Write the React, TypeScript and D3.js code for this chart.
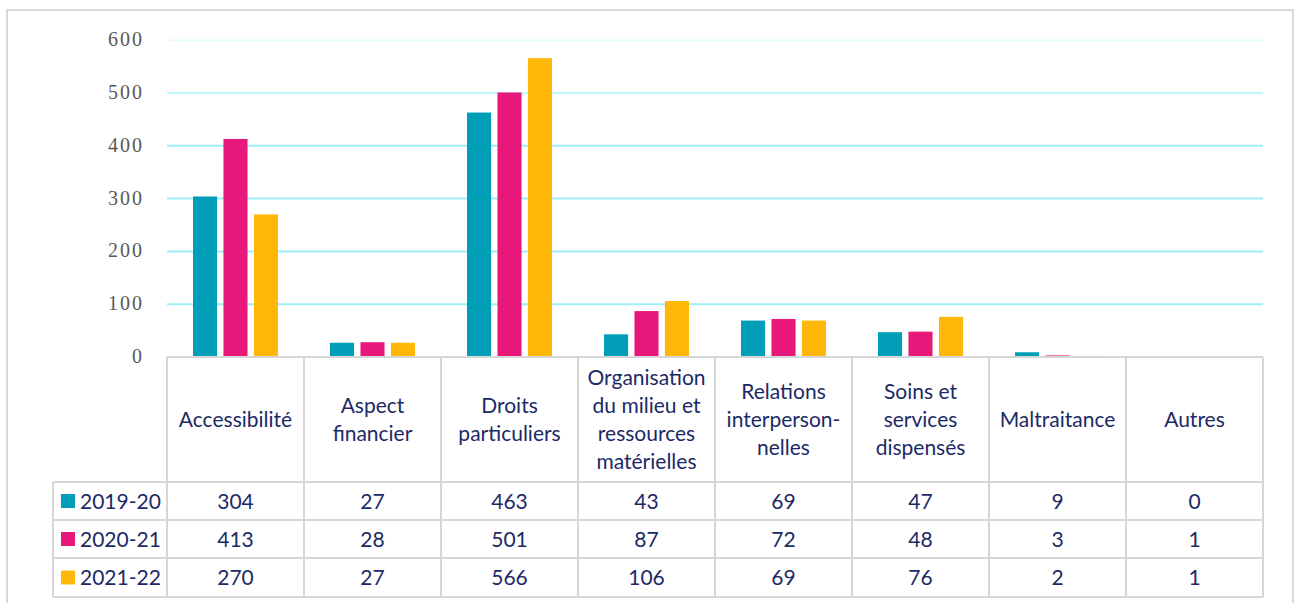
import { useEffect } from "react";
import * as d3 from "d3";

const categories = [
  ["Accessibilité"],
  ["Aspect", "financier"],
  ["Droits", "particuliers"],
  ["Organisation", "du milieu et", "ressources", "matérielles"],
  ["Relations", "interperson-", "nelles"],
  ["Soins et", "services", "dispensés"],
  ["Maltraitance"],
  ["Autres"],
];
const seriesNames = ["2019-20", "2020-21", "2021-22"];
const values2019 = [304, 27, 463, 43, 69, 47, 9, 0];
const values2020 = [413, 28, 501, 87, 72, 48, 3, 1];
const values2021 = [270, 27, 566, 106, 69, 76, 2, 1];
const seriesColors = ["#009fb7", "#e8177a", "#ffb70a"];
const yTicks = [0, 100, 200, 300, 400, 500, 600];
const gridColors: Record<number, string> = { 600: "#e8fcfe", 500: "#c2f5fc" };

const W = 1299;
const H = 603;
const plotLeft = 167;
const plotRight = 1263;
const legendLeft = 53;
const rowTops = [482, 520, 558, 597];
const headerBottom = 482;
const groupW = 85;

const series = [values2019, values2020, values2021];

export default function App() {
  useEffect(() => {
    document.body.style.margin = "0";
  }, []);

  const y = d3.scaleLinear().domain([0, 600]).range([357, 40.2]);
  const keys = categories.map((_, i) => String(i));
  const x0 = d3.scaleBand().domain(keys).range([plotLeft, plotRight]);
  const x1 = d3
    .scaleBand()
    .domain(seriesNames)
    .range([0, groupW])
    .paddingInner(0.21)
    .paddingOuter(0);
  const groupOffset = (x0.bandwidth() - groupW) / 2;

  const textColor = "#1b2a66";
  const lineColor = "#d6d6d6";
  const tableFont = "Lato, 'Open Sans', sans-serif";

  return (
    <svg width={W} height={H} style={{ display: "block", background: "#fff" }}>
      <rect x={7} y={10} width={1286} height={610} fill="#fff" stroke="#d9d9d9" strokeWidth={2} />

      {/* gridlines + y labels */}
      {yTicks.map((t) => (
        <g key={t}>
          {t > 0 && (
            <line
              x1={plotLeft}
              x2={plotRight}
              y1={y(t)}
              y2={y(t)}
              stroke={gridColors[t] || "#9eeef8"}
              strokeWidth={2}
            />
          )}
          <text
            x={144}
            y={y(t)}
            dy="0.3em"
            textAnchor="end"
            fill="#595959"
            fontFamily="'Liberation Serif', 'DejaVu Serif', serif"
            fontSize={20}
            letterSpacing={2}
            style={{ fontVariantNumeric: "oldstyle-nums" }}
          >
            {t}
          </text>
        </g>
      ))}

      {/* bars */}
      {keys.map((k, ci) => (
        <g key={k} transform={`translate(${x0(k)! + groupOffset},0)`}>
          {series.map((vals, si) => (
            <rect
              key={si}
              x={x1(seriesNames[si])}
              y={y(vals[ci])}
              width={x1.bandwidth()}
              height={y(0) - y(vals[ci])}
              fill={seriesColors[si]}
            />
          ))}
        </g>
      ))}

      {/* data table lines */}
      <g stroke={lineColor} strokeWidth={2}>
        <line x1={plotLeft} x2={plotRight} y1={357} y2={357} />
        {rowTops.map((ry) => (
          <line key={ry} x1={legendLeft} x2={plotRight} y1={ry} y2={ry} />
        ))}
        <line x1={legendLeft} x2={legendLeft} y1={headerBottom} y2={597} />
        {keys.map((k) => (
          <line key={k} x1={x0(k)} x2={x0(k)} y1={357} y2={597} />
        ))}
        <line x1={plotRight} x2={plotRight} y1={357} y2={597} />
      </g>

      {/* header labels */}
      {categories.map((lines, ci) => {
        const cx = x0(String(ci))! + x0.bandwidth() / 2;
        return (
          <text
            key={ci}
            textAnchor="middle"
            fill={textColor}
            fontFamily={tableFont}
            fontSize={21}
          >
            {lines.map((ln, li) => (
              <tspan key={li} x={cx} y={427 + (li - (lines.length - 1) / 2) * 28}>
                {ln}
              </tspan>
            ))}
          </text>
        );
      })}

      {/* legend + values rows */}
      {seriesNames.map((name, si) => {
        const top = rowTops[si];
        const mid = (top + rowTops[si + 1]) / 2;
        return (
          <g key={name} fontFamily={tableFont} fontSize={21} fill={textColor}>
            <rect x={61} y={mid - 7} width={14} height={14} fill={seriesColors[si]} />
            <text x={80} y={mid} dy="0.36em">
              {name}
            </text>
            {series[si].map((v, ci) => (
              <text
                key={ci}
                x={x0(String(ci))! + x0.bandwidth() / 2}
                y={mid}
                dy="0.36em"
                textAnchor="middle"
              >
                {v}
              </text>
            ))}
          </g>
        );
      })}
    </svg>
  );
}
